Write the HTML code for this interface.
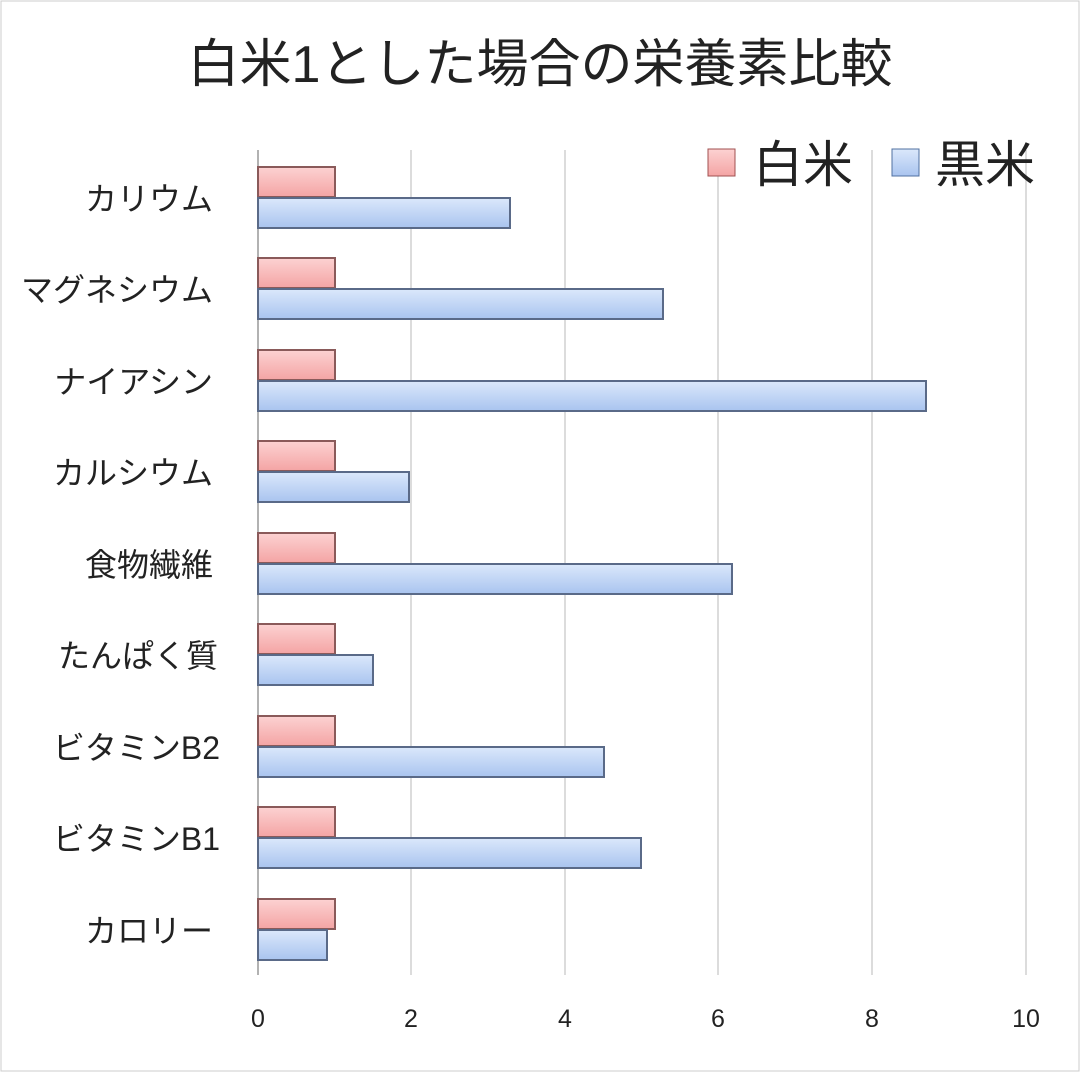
<!DOCTYPE html>
<html><head><meta charset="utf-8"><style>
body{margin:0;background:#fff;}
svg{display:block;}
text{font-family:"Liberation Sans","Noto Sans CJK JP",sans-serif;fill:#222;}
</style></head><body>
<svg width="1080" height="1072" viewBox="0 0 1080 1072">
<defs>
<linearGradient id="r" x1="0" y1="0" x2="0" y2="1"><stop offset="0" stop-color="#fcd2d2"/><stop offset="1" stop-color="#f4a4a4"/></linearGradient>
<linearGradient id="b" x1="0" y1="0" x2="0" y2="1"><stop offset="0" stop-color="#dbe8fb"/><stop offset="1" stop-color="#a9c4ef"/></linearGradient>
</defs>
<rect x="1" y="1" width="1078" height="1070" fill="#fff" stroke="#ccc"/>
<text x="540" y="82" font-size="52" text-anchor="middle">白米1とした場合の栄養素比較</text>
<g stroke="#d0d0d0" stroke-width="1.5">
<line x1="411" y1="150" x2="411" y2="975"/><line x1="565" y1="150" x2="565" y2="975"/>
<line x1="718" y1="150" x2="718" y2="975"/><line x1="872" y1="150" x2="872" y2="975"/>
<line x1="1026" y1="150" x2="1026" y2="975"/>
</g>
<line x1="258" y1="150" x2="258" y2="975" stroke="#999" stroke-width="1.5"/>
<g font-size="25" text-anchor="middle">
<text x="258" y="1027">0</text><text x="411" y="1027">2</text><text x="565" y="1027">4</text><text x="718" y="1027">6</text><text x="872" y="1027">8</text><text x="1026" y="1027">10</text>
</g>
<rect x="708" y="149" width="27" height="27" fill="url(#r)" stroke="#a05050"/>
<text x="753" y="182" font-size="50">白米</text>
<rect x="892" y="149" width="27" height="27" fill="url(#b)" stroke="#5070a0"/>
<text x="935" y="182" font-size="50">黒米</text>
<g font-size="32" text-anchor="end">
<text x="213" y="210">カリウム</text>
<text x="213" y="301">マグネシウム</text>
<text x="213" y="393">ナイアシン</text>
<text x="213" y="484">カルシウム</text>
<text x="213" y="576">食物繊維</text>
<text x="218" y="667">たんぱく質</text>
<text x="220" y="759">ビタミンB2</text>
<text x="220" y="850">ビタミンB1</text>
<text x="213" y="942">カロリー</text>
</g>
<g stroke-width="2">
<rect x="258" y="167" width="77" height="30" fill="url(#r)" stroke="#8a5a5a"/><rect x="258" y="198" width="252" height="30" fill="url(#b)" stroke="#5a6a88"/>
<rect x="258" y="258" width="77" height="30" fill="url(#r)" stroke="#8a5a5a"/><rect x="258" y="289" width="405" height="30" fill="url(#b)" stroke="#5a6a88"/>
<rect x="258" y="350" width="77" height="30" fill="url(#r)" stroke="#8a5a5a"/><rect x="258" y="381" width="668" height="30" fill="url(#b)" stroke="#5a6a88"/>
<rect x="258" y="441" width="77" height="30" fill="url(#r)" stroke="#8a5a5a"/><rect x="258" y="472" width="151" height="30" fill="url(#b)" stroke="#5a6a88"/>
<rect x="258" y="533" width="77" height="30" fill="url(#r)" stroke="#8a5a5a"/><rect x="258" y="564" width="474" height="30" fill="url(#b)" stroke="#5a6a88"/>
<rect x="258" y="624" width="77" height="30" fill="url(#r)" stroke="#8a5a5a"/><rect x="258" y="655" width="115" height="30" fill="url(#b)" stroke="#5a6a88"/>
<rect x="258" y="716" width="77" height="30" fill="url(#r)" stroke="#8a5a5a"/><rect x="258" y="747" width="346" height="30" fill="url(#b)" stroke="#5a6a88"/>
<rect x="258" y="807" width="77" height="30" fill="url(#r)" stroke="#8a5a5a"/><rect x="258" y="838" width="383" height="30" fill="url(#b)" stroke="#5a6a88"/>
<rect x="258" y="899" width="77" height="30" fill="url(#r)" stroke="#8a5a5a"/><rect x="258" y="930" width="69" height="30" fill="url(#b)" stroke="#5a6a88"/>
</g>
</svg>
</body></html>
